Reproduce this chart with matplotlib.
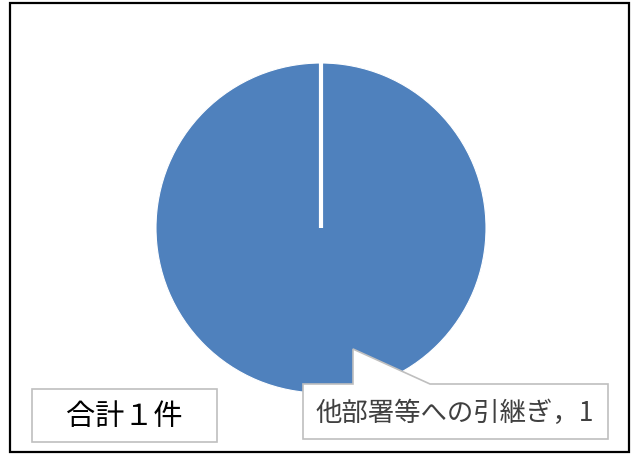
import numpy as np
import matplotlib.pyplot as plt
from matplotlib.patches import Polygon, Rectangle

plt.rcParams['font.family'] = ['Noto Sans CJK JP', 'DejaVu Sans']

labels = ['他部署等への引継ぎ']
values = [1]
total_text = '合計１件'

W, H = 636, 456
fig = plt.figure(figsize=(W / 100, H / 100), dpi=100)

# 外枠
fig.add_artist(Rectangle((10 / W, 3 / H), 619 / W, 449 / H, transform=fig.transFigure,
                         fill=False, edgecolor='black', linewidth=1.6))

# 円グラフ (中心 321,229 / 半径 165 px)
ax = fig.add_axes([(321 - 165) / W, (H - 229 - 165) / H, 330 / W, 330 / H])
wedges, _ = ax.pie(values, colors=['#4F81BD'], startangle=90, counterclock=False,
                   wedgeprops=dict(edgecolor='white', linewidth=0.8))
ax.set_xlim(-1, 1)
ax.set_ylim(-1, 1)
# 区切り線
a = np.deg2rad(wedges[0].theta1)
ax.plot([0, np.cos(a)], [0, np.sin(a)], color='white', linewidth=3, solid_capstyle='butt')

# 吹き出し
def px(x, y):
    return (x / W, (H - y) / H)

pts = [px(303, 385), px(353, 385), px(353, 350), px(430, 385), px(608, 385),
       px(608, 440), px(303, 440)]
fig.add_artist(Polygon(pts, closed=True, transform=fig.transFigure,
                       facecolor='white', edgecolor='#BFBFBF', linewidth=1.2))
fig.text(*px(455, 413), labels[0] + '，' + str(values[0]), ha='center', va='center',
         fontsize=19, color='#404040')

# 合計
fig.add_artist(Rectangle(px(32, 443), 185 / W, 53 / H, transform=fig.transFigure,
                         facecolor='white', edgecolor='#BFBFBF', linewidth=1.2))
fig.text(*px(124, 417), total_text, ha='center', va='center', fontsize=21, color='black')

plt.savefig('out.png', dpi=100)
